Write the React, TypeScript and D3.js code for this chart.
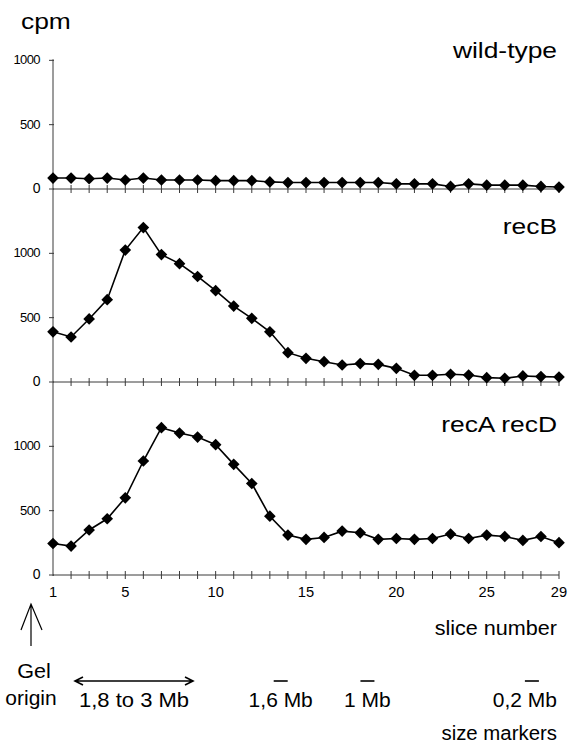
import React, { useEffect, useRef } from "react";
import * as d3 from "d3";

// slice numbers 1..29
const slices = d3.range(1, 30);
const sliceTicks = [1, 5, 10, 15, 20, 25, 29];
const yTicks = [0, 500, 1000];

// cpm per slice
const wildType = [85, 85, 80, 85, 70, 85, 70, 70, 70, 65, 65, 65, 55, 50, 50, 50, 50, 50, 50, 40, 40, 40, 20, 40, 30, 30, 30, 20, 15];
const recB = [390, 350, 490, 640, 1025, 1200, 990, 920, 820, 710, 590, 495, 390, 228, 184, 158, 132, 143, 137, 106, 52, 52, 60, 54, 34, 29, 47, 42, 39];
const recArecD = [245, 225, 350, 437, 600, 886, 1145, 1103, 1072, 1013, 860, 711, 457, 310, 277, 292, 341, 328, 277, 284, 277, 284, 318, 284, 310, 299, 269, 299, 251];

const panelNames = ["wild-type", "recB", "recA recD"];
const panelSeries = [wildType, recB, recArecD];

const sizeMarkers = [
  { label: "1,6 Mb", slice: 13.6 },
  { label: "1 Mb", slice: 18.4 },
  { label: "0,2 Mb", slice: 27.5 },
];

const Chart = () => {
  const svgRef = useRef(null);

  useEffect(() => {
    const svg = d3.select(svgRef.current);
    svg.selectAll("*").remove();

    const font = "'Liberation Sans', Arial, sans-serif";
    const axisColor = "#3a3a3a";

    // text with a bit of horizontal stretch, like the scanned figure
    const label = (parent, tx, ty, str, size, anchor = "start", sx = 1) =>
      parent
        .append("text")
        .attr("transform", `translate(${tx},${ty}) scale(${sx},1)`)
        .attr("text-anchor", anchor)
        .attr("font-family", font)
        .attr("font-size", size)
        .attr("fill", "#000")
        .text(str);

    const x = d3.scaleLinear().domain([1, 29]).range([53, 559]);

    // each panel spans 1500 cpm; zero lines at 189, 382, 575
    const panelZero = [189, 382, 575];
    const panelHeight = 193;
    const nameBaseline = [58, 234, 432];
    const yFor = (i) =>
      d3.scaleLinear().domain([0, 1500]).range([panelZero[i], panelZero[i] - panelHeight]);

    // y axis, one continuous line
    svg
      .append("line")
      .attr("x1", x(1))
      .attr("x2", x(1))
      .attr("y1", yFor(0)(1000) - 1)
      .attr("y2", yFor(2)(0) + 1)
      .attr("stroke", axisColor)
      .attr("stroke-width", 1);

    label(svg, 21, 29, "cpm", 22, "start", 1.2);

    panelSeries.forEach((values, i) => {
      const y = yFor(i);
      const g = svg.append("g");

      // zero line with crossing ticks
      g.append("line")
        .attr("x1", x(1))
        .attr("x2", x(29))
        .attr("y1", y(0))
        .attr("y2", y(0))
        .attr("stroke", axisColor)
        .attr("stroke-width", 1);

      g.selectAll(".xt")
        .data(slices.slice(1))
        .join("line")
        .attr("x1", (d) => x(d))
        .attr("x2", (d) => x(d))
        .attr("y1", y(0) - 4)
        .attr("y2", y(0) + 4)
        .attr("stroke", axisColor)
        .attr("stroke-width", 1);

      // y ticks + labels
      g.selectAll(".yt")
        .data(yTicks)
        .join("line")
        .attr("x1", x(1) - 4)
        .attr("x2", x(1) + 1)
        .attr("y1", (d) => y(d))
        .attr("y2", (d) => y(d))
        .attr("stroke", axisColor);

      yTicks.forEach((t) => {
        label(g, 40, y(t) + 4, t, t === 0 ? 14 : 13, "end", 1).attr("letter-spacing", -0.6);
      });

      // series name
      label(g, 557, nameBaseline[i], panelNames[i], 22, "end", 1.2);

      const line = d3
        .line()
        .x((d, j) => x(slices[j]))
        .y((d) => y(d));

      g.append("path")
        .datum(values)
        .attr("fill", "none")
        .attr("stroke", "#000")
        .attr("stroke-width", 1.6)
        .attr("d", line);

      const diamond = d3.symbol().type(d3.symbolSquare).size(68);
      g.selectAll(".pt")
        .data(values)
        .join("path")
        .attr("d", diamond)
        .attr("transform", (d, j) => `translate(${x(slices[j])},${y(d)}) rotate(45)`)
        .attr("fill", "#000");
    });

    // slice tick labels
    sliceTicks.forEach((s) => {
      label(svg, x(s), 597, s, 14, "middle", 1.05);
    });

    label(svg, 557, 635, "slice number", 20, "end", 1.08);

    // gel origin arrow
    const ax = 31;
    svg
      .append("path")
      .attr("d", `M${ax},646 L${ax},604 M${ax - 10},630 L${ax},604 L${ax + 11},630`)
      .attr("fill", "none")
      .attr("stroke", "#000")
      .attr("stroke-width", 1.2);

    label(svg, 34, 678, "Gel", 20, "middle", 1.08);
    label(svg, 31, 705, "origin", 20, "middle", 1.05);

    // 1,8 to 3 Mb double arrow
    const ay = 681;
    const x0 = 75;
    const x1 = 193;
    svg
      .append("path")
      .attr(
        "d",
        `M${x0},${ay} L${x1},${ay} M${x0 + 8},${ay - 4} L${x0},${ay} L${x0 + 8},${ay + 4} M${x1 - 8},${ay - 4} L${x1},${ay} L${x1 - 8},${ay + 4}`
      )
      .attr("fill", "none")
      .attr("stroke", "#000")
      .attr("stroke-width", 1.6);

    label(svg, (x0 + x1) / 2, 707, "1,8 to 3 Mb", 20, "middle", 1.1);

    sizeMarkers.forEach((m, i) => {
      const cx = x(m.slice);
      svg
        .append("line")
        .attr("x1", cx - 7)
        .attr("x2", cx + 7)
        .attr("y1", 681)
        .attr("y2", 681)
        .attr("stroke", "#000")
        .attr("stroke-width", 1.6);
      label(svg, i === 2 ? 557 : cx, 707, m.label, 20, i === 2 ? "end" : "middle", 1.05);
    });

    label(svg, 557, 740, "size markers", 20, "end", 1.02);
  }, []);

  return (
    <svg
      ref={svgRef}
      width={569}
      height={746}
      style={{ position: "absolute", left: 0, top: 0, background: "#fff" }}
    ></svg>
  );
};

export default function App() {
  return <Chart />;
}
